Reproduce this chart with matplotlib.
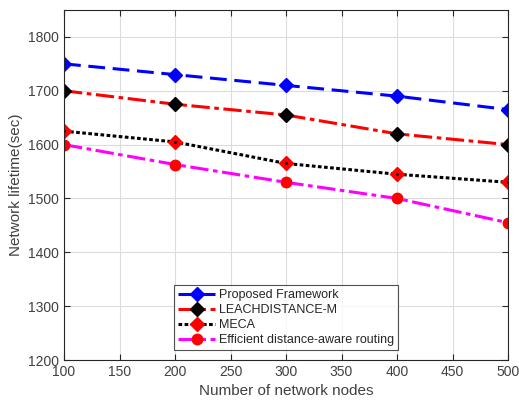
import matplotlib
matplotlib.use("Agg")
import matplotlib.pyplot as plt

# DATA
nodes = [100, 200, 300, 400, 500]
proposed = [1750, 1730, 1710, 1690, 1665]
leach = [1700, 1675, 1655, 1620, 1600]
meca = [1625, 1605, 1565, 1545, 1530]
efficient = [1600, 1563, 1530, 1500, 1455]

labels = ["Proposed Framework", "LEACHDISTANCE-M", "MECA", "Efficient distance-aware routing"]

TEXT_COLOUR = "#404040"
plt.rcParams["font.family"] = ["Liberation Sans", "DejaVu Sans"]

fig = plt.figure(figsize=(5.19, 4.05), dpi=100)
ax = fig.add_axes([64 / 519, 45 / 405, 444 / 519, 350 / 405])

ax.plot(nodes, proposed, color="blue", linestyle=(0, (5.5, 2.5)), linewidth=2.2,
        marker="D", markersize=7.5, markerfacecolor="blue", markeredgecolor="blue", label=labels[0])
ax.plot(nodes, leach, color="red", linestyle=(0, (6, 1.5, 1.5, 1.5)), linewidth=2.2,
        marker="D", markersize=7.5, markerfacecolor="black", markeredgecolor="black", label=labels[1])
ax.plot(nodes, meca, color="black", linestyle=(0, (1.2, 0.8)), linewidth=2.2,
        marker="D", markersize=7.5, markerfacecolor="red", markeredgecolor="red", label=labels[2])
ax.plot(nodes, meca, linestyle="none", marker=".", markersize=2, color="black")
ax.plot(nodes, efficient, color="magenta", linestyle=(0, (6, 1.5, 1.5, 1.5)), linewidth=2.2,
        marker="o", markersize=7.5, markerfacecolor="red", markeredgecolor="red", label=labels[3])

ax.set_xlim(100, 500)
ax.set_ylim(1200, 1850)
ax.set_xticks(range(100, 501, 50))
ax.set_yticks(range(1200, 1801, 100))
ax.grid(True, color="#dcdcdc", linewidth=0.8)
ax.set_axisbelow(True)
ax.tick_params(direction="in", length=4, labelsize=10, colors="#262626", labelcolor=TEXT_COLOUR,
               top=True, right=True, labeltop=False, labelright=False)
for s in ax.spines.values():
    s.set_color("#262626")
    s.set_linewidth(0.8)

ax.set_xlabel("Number of network nodes", fontsize=11, color=TEXT_COLOUR)
ax.set_ylabel("Network lifetime(sec)", fontsize=11, color=TEXT_COLOUR)

leg = ax.legend(loc="lower center", bbox_to_anchor=(0.5, 0.01), fontsize=9, frameon=True,
                fancybox=False, edgecolor="#262626", handlelength=3, borderpad=0.3,
                labelspacing=0.25, handletextpad=0.3)
leg.get_frame().set_linewidth(0.8)
for t in leg.get_texts():
    t.set_color("#262626")

fig.savefig("out.png", dpi=100)
